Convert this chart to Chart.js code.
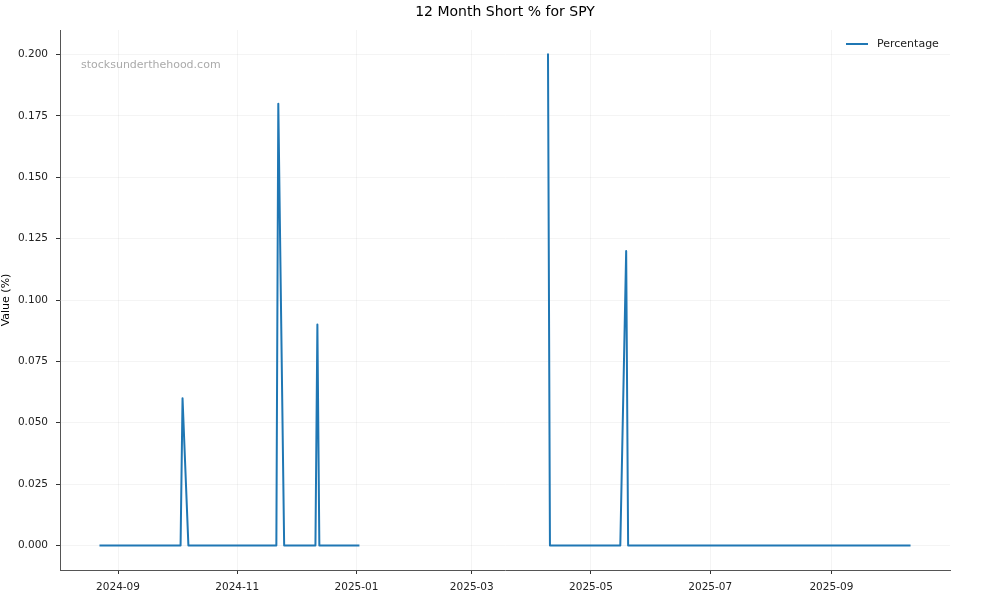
<!DOCTYPE html>
<html>
<head>
<meta charset="utf-8">
<script src="https://cdn.jsdelivr.net/npm/chart.js@4.4.1/dist/chart.umd.min.js"></script>
<style>
  html, body { margin: 0; padding: 0; background: #fff; }
  #wrap { width: 1000px; height: 600px; }
</style>
</head>
<body>
<div id="wrap"><canvas id="chart" width="1000" height="600"></canvas></div>
<script>
// break points of the series (zeros between them are flat), null = missing data
const dates = [
  "2024-08-23", "2024-10-03", "2024-10-04", "2024-10-07",
  "2024-11-21", "2024-11-22", "2024-11-25",
  "2024-12-11", "2024-12-12", "2024-12-13", "2025-01-02",
  "2025-02-15",
  "2025-04-09", "2025-04-10",
  "2025-05-16", "2025-05-19", "2025-05-20", "2025-10-11"
];
const percentage = [
  0, 0, 0.06, 0,
  0, 0.18, 0,
  0, 0.09, 0, 0,
  null,
  0.2, 0,
  0, 0.12, 0, 0
];
const xTickDates = ["2024-09-01", "2024-11-01", "2025-01-01", "2025-03-01", "2025-05-01", "2025-07-01", "2025-09-01"];
const yTicks = [0, 0.025, 0.05, 0.075, 0.1, 0.125, 0.15, 0.175, 0.2];

const toDay = (s) => {
  const [y, m, d] = s.split("-").map(Number);
  return Date.UTC(y, m - 1, d) / 86400000;
};
const fmtMonth = (v) => new Date(Math.round(v) * 86400000).toISOString().slice(0, 7);

const points = dates.map((d, i) => ({ x: toDay(d), y: percentage[i] }));
const first = toDay(dates[0]);
const last = toDay(dates[dates.length - 1]);
const margin = (last - first) * 0.05;

Chart.defaults.font.family = "'DejaVu Sans', sans-serif";
Chart.defaults.color = "#222";

// title, watermark and in-axes legend
const decorations = {
  id: "decorations",
  afterDraw(chart) {
    const { ctx, chartArea } = chart;
    ctx.save();
    ctx.fillStyle = "#000";
    ctx.font = "14px 'DejaVu Sans'";
    ctx.textAlign = "center";
    ctx.textBaseline = "middle";
    ctx.fillText("12 Month Short % for SPY", (chartArea.left + chartArea.right) / 2, 12);

    ctx.fillStyle = "#aaaaaa";
    ctx.font = "11px 'DejaVu Sans'";
    ctx.textAlign = "left";
    ctx.fillText("stocksunderthehood.com", chartArea.left + 21, 65);

    ctx.strokeStyle = "#1f77b4";
    ctx.lineWidth = 2;
    ctx.beginPath();
    ctx.moveTo(846, 44);
    ctx.lineTo(868, 44);
    ctx.stroke();
    ctx.fillStyle = "#222";
    ctx.font = "11px 'DejaVu Sans'";
    ctx.fillText("Percentage", 877, 44.5);
    ctx.restore();
  }
};

new Chart(document.getElementById("chart").getContext("2d"), {
  type: "line",
  data: {
    datasets: [{
      label: "Percentage",
      data: points,
      borderColor: "#1f77b4",
      backgroundColor: "#1f77b4",
      borderWidth: 2,
      borderJoinStyle: "round",
      borderCapStyle: "square",
      pointRadius: 0,
      tension: 0,
      spanGaps: false,
      fill: false
    }]
  },
  options: {
    responsive: false,
    animation: false,
    devicePixelRatio: 1,
    layout: { padding: { top: 30, right: 50, bottom: 0, left: 0 } },
    plugins: {
      legend: { display: false },
      title: { display: false },
      tooltip: { enabled: false }
    },
    scales: {
      x: {
        type: "linear",
        min: first - margin,
        max: last + margin,
        afterBuildTicks: (s) => { s.ticks = xTickDates.map((d) => ({ value: toDay(d) })); },
        afterFit: (s) => { s.height = 30; },
        ticks: {
          callback: (v) => fmtMonth(v),
          autoSkip: false,
          maxRotation: 0,
          padding: 7,
          font: { size: 10.5 },
          color: "#222"
        },
        grid: { color: "rgba(0,0,0,0.045)", tickColor: "#333", tickLength: 4 },
        border: { color: "#555", width: 1 }
      },
      y: {
        min: -0.01,
        max: 0.21,
        afterBuildTicks: (s) => { s.ticks = yTicks.map((v) => ({ value: v })); },
        afterFit: (s) => { s.width = 60; },
        ticks: {
          callback: (v) => v.toFixed(3),
          padding: 8,
          font: { size: 10.5 },
          color: "#222"
        },
        grid: { color: "rgba(0,0,0,0.045)", tickColor: "#333", tickLength: 4 },
        border: { color: "#555", width: 1 },
        title: { display: true, text: "Value (%)", padding: 0, font: { size: 11 }, color: "#000" }
      }
    }
  },
  plugins: [decorations]
});
</script>
</body>
</html>
